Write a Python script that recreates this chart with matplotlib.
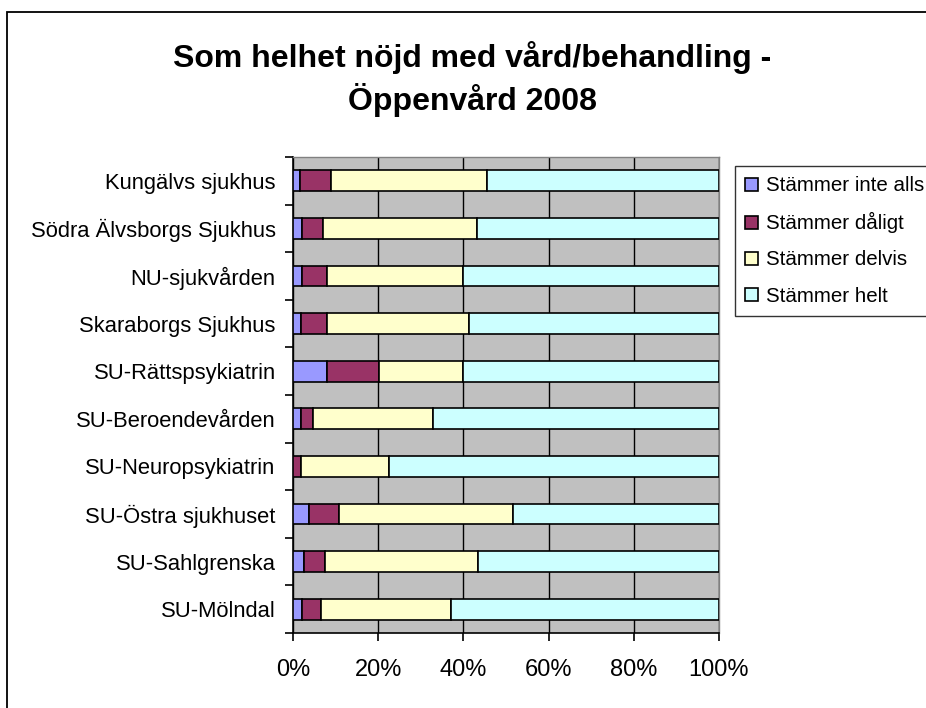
import matplotlib.pyplot as plt
from matplotlib.patches import Rectangle
from matplotlib.ticker import FixedLocator, FuncFormatter

plt.rcParams['font.family'] = ['Liberation Sans', 'DejaVu Sans']

categories = ['Kungälvs sjukhus', 'Södra Älvsborgs Sjukhus', 'NU-sjukvården',
              'Skaraborgs Sjukhus', 'SU-Rättspsykiatrin', 'SU-Beroendevården',
              'SU-Neuropsykiatrin', 'SU-Östra sjukhuset', 'SU-Sahlgrenska',
              'SU-Mölndal']
inte_alls = [1.7, 2.2, 2.2, 1.8, 7.9, 1.8, 0.0, 3.7, 2.6, 2.2]
daligt = [7.2, 4.9, 5.7, 6.1, 12.3, 2.8, 1.8, 7.1, 4.9, 4.3]
delvis = [36.7, 36.2, 32.1, 33.4, 19.8, 28.3, 20.8, 40.9, 35.9, 30.6]
helt = [54.4, 56.7, 60.0, 58.7, 60.0, 67.1, 77.4, 48.3, 56.6, 62.9]
series = ['Stämmer inte alls', 'Stämmer dåligt', 'Stämmer delvis', 'Stämmer helt']
colors = ['#9999FF', '#993366', '#FFFFCC', '#CCFFFF']
xticks = [0, 20, 40, 60, 80, 100]

W, H = 926, 708
fig = plt.figure(figsize=(W / 100, H / 100), dpi=100)
fig.patch.set_facecolor('white')

# outer chart border (top and left visible, rest runs off the picture)
fig.add_artist(Rectangle((7 / W, -0.1), 1.2, 1.1 - 12 / H, transform=fig.transFigure,
                         fill=False, edgecolor='black', linewidth=1.3))

ax = fig.add_axes([293 / W, 1 - 633 / H, 426 / W, 476 / H])
ax.set_facecolor('#C0C0C0')

y = list(range(len(categories)))
left = [0.0] * len(categories)
for vals, name, col in zip([inte_alls, daligt, delvis, helt], series, colors):
    ax.barh(y, vals, left=left, height=0.44, color=col, edgecolor='black',
            linewidth=1.2, label=name, zorder=3)
    left = [a + b for a, b in zip(left, vals)]

ax.set_xlim(0, 100)
ax.set_ylim(len(categories) - 0.5, -0.5)
ax.set_xticks(xticks)
ax.xaxis.set_major_formatter(FuncFormatter(lambda v, p: f'{v:.0f}%'))
ax.set_yticks(y)
ax.set_yticklabels(categories)
ax.yaxis.set_minor_locator(FixedLocator([i - 0.5 for i in range(len(categories) + 1)]))
ax.tick_params(axis='y', which='major', length=0, pad=12.5, labelsize=15.8)
ax.tick_params(axis='y', which='minor', length=6, width=1.2, direction='out')
ax.tick_params(axis='x', length=6, width=1.2, direction='out', pad=12.5, labelsize=17)
ax.grid(axis='x', color='black', linewidth=1.0, zorder=1)
ax.set_axisbelow(True)
for s in ['left', 'bottom']:
    ax.spines[s].set_color('black')
    ax.spines[s].set_linewidth(1.2)
for s in ['top', 'right']:
    ax.spines[s].set_color('#808080')
    ax.spines[s].set_linewidth(1.0)

fig.text(472 / W, 1 - 58 / H, 'Som helhet nöjd med vård/behandling -',
         ha='center', va='center', fontsize=23, fontweight='bold')
fig.text(472 / W, 1 - 100 / H, 'Öppenvård 2008',
         ha='center', va='center', fontsize=23, fontweight='bold')

leg = ax.legend(loc='upper left', bbox_to_anchor=(735 / W, 1 - 166 / H),
                bbox_transform=fig.transFigure, fontsize=14.8, frameon=True,
                fancybox=False, edgecolor='black', handlelength=0.6,
                handleheight=0.6, handletextpad=0.4, labelspacing=0.83,
                borderpad=0.5, borderaxespad=0)
leg.get_frame().set_linewidth(1.0)

fig.savefig('out.png', dpi=100)
